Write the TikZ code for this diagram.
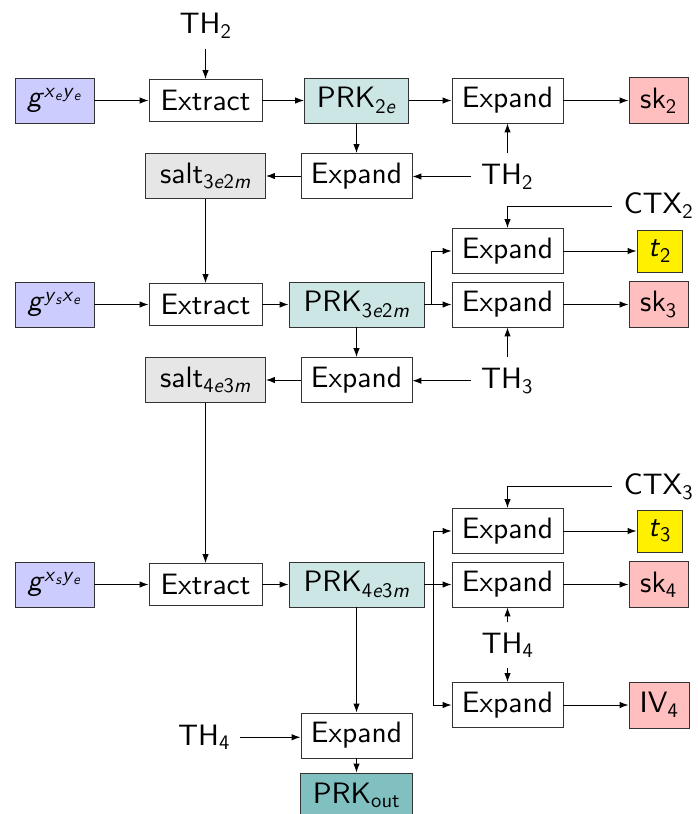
\documentclass[tikz,border=0pt]{standalone}
\usepackage{fontspec}
\setmainfont{lmsans10-regular.otf}[ItalicFont=lmsans10-oblique.otf]
\usetikzlibrary{arrows.meta}
\definecolor{gcol}{HTML}{CCCCFF}
\definecolor{prkcol}{HTML}{CCE5E5}
\definecolor{prkoutcol}{HTML}{80C0C0}
\definecolor{skcol}{HTML}{FFBFBF}
\definecolor{saltcol}{HTML}{E6E6E6}
\definecolor{tcol}{HTML}{FFF000}
\newcommand{\vi}[1]{\textit{#1}}
\newcommand{\sub}[1]{\textsubscript{#1}}
\begin{document}
\begin{tikzpicture}[x=1pt,y=-1pt,
  bx/.style={draw=black!80, line width=0.9pt, inner sep=0pt, font=\fontsize{29.5}{34}\selectfont},
  wbox/.style={bx, fill=white, minimum width=111pt, minimum height=45pt},
  exbox/.style={bx, fill=white, minimum width=113pt, minimum height=42pt},
  gbox/.style={bx, fill=gcol, minimum width=79pt, minimum height=45pt},
  prkbox/.style={bx, fill=prkcol, minimum height=45pt},
  saltbox/.style={bx, fill=saltcol, minimum width=120pt, minimum height=45pt},
  skbox/.style={bx, fill=skcol, minimum width=59pt, minimum height=46pt},
  tbox/.style={bx, fill=tcol, minimum width=45pt, minimum height=42pt},
  lbl/.style={inner sep=10pt, font=\fontsize{29.5}{34}\selectfont},
  arr/.style={-{Latex[length=9pt,width=6.5pt]}, line width=1pt},
  ln/.style={line width=1pt}]
\useasboundingbox (0,0) rectangle (697,814);

% row 1
\node[gbox] (g1) at (54.5,100.5) {\vi{g}\textsuperscript{\vi{x}\sub{\vi{e}}\vi{y}\sub{\vi{e}}}};
\node[exbox] (ex1) at (205.5,100.5) {Extract};
\node[prkbox, minimum width=104pt] (prk1) at (356.5,100.5) {PRK\sub{2\vi{e}}};
\node[wbox] (exp1) at (507.5,100.5) {Expand};
\node[skbox] (sk2) at (658.5,100.5) {sk\sub{2}};
\node[lbl, anchor=base] (th2a) at (205.5,33) {TH\sub{2}};

% row 2
\node[saltbox] (salt1) at (205.5,176) {salt\sub{3\vi{e}2\vi{m}}};
\node[wbox] (exp2) at (356.5,176) {Expand};
\node[lbl, anchor=base] (th2b) at (507,184) {TH\sub{2}};

% row 3
\node[gbox] (g2) at (54.5,304.5) {\vi{g}\textsuperscript{\vi{y}\sub{\vi{s}}\vi{x}\sub{\vi{e}}}};
\node[exbox] (ex2) at (205.5,304.5) {Extract};
\node[prkbox, minimum width=135pt] (prk2) at (356.5,304.5) {PRK\sub{3\vi{e}2\vi{m}}};
\node[wbox] (exp3a) at (507.5,251) {Expand};
\node[wbox] (exp3b) at (507.5,304.5) {Expand};
\node[tbox] (t2) at (659.5,251) {\vi{t}\sub{2}};
\node[skbox] (sk3) at (658.5,304.5) {sk\sub{3}};
\node[lbl, anchor=base, inner sep=0pt] (ctx2) at (658.5,213) {CTX\sub{2}};

% row 4
\node[saltbox] (salt2) at (205.5,380) {salt\sub{4\vi{e}3\vi{m}}};
\node[wbox] (exp4) at (356.5,380) {Expand};
\node[lbl, anchor=base] (th3) at (507,388) {TH\sub{3}};

% row 5
\node[gbox] (g3) at (54.5,584.5) {\vi{g}\textsuperscript{\vi{x}\sub{\vi{s}}\vi{y}\sub{\vi{e}}}};
\node[exbox] (ex3) at (205.5,584.5) {Extract};
\node[prkbox, minimum width=135pt] (prk3) at (356.5,584.5) {PRK\sub{4\vi{e}3\vi{m}}};
\node[wbox] (exp5a) at (507.5,531) {Expand};
\node[wbox] (exp5b) at (507.5,584.5) {Expand};
\node[wbox] (exp5c) at (507.5,705) {Expand};
\node[tbox] (t3) at (659.5,531) {\vi{t}\sub{3}};
\node[skbox] (sk4) at (658.5,584.5) {sk\sub{4}};
\node[skbox, minimum width=60pt] (iv4) at (659,705) {IV\sub{4}};
\node[lbl, anchor=base, inner sep=0pt] (ctx3) at (658.5,494) {CTX\sub{3}};
\node[lbl, anchor=base] (th4r) at (507.5,653) {TH\sub{4}};

% row 6
\node[wbox] (exp6) at (356.5,735.5) {Expand};
\node[bx, fill=prkoutcol, minimum width=112pt, minimum height=45pt] (prkout) at (356.5,795.5) {PRK\sub{out}};
\node[lbl, anchor=base] (th4l) at (204,745) {TH\sub{4}};

% connectors row 1-2
\draw[arr] (th2a) -- (ex1);
\draw[arr] (g1) -- (ex1);
\draw[arr] (ex1) -- (prk1);
\draw[arr] (prk1) -- (exp1);
\draw[arr] (exp1) -- (sk2);
\draw[arr] (prk1) -- (exp2);
\draw[arr] (exp1.south |- th2b.north) -- (exp1.south);
\draw[arr] (th2b.west -| th2b.west) -- (th2b.west -| exp2.east);
\draw[arr] (exp2) -- (salt1);
\draw[arr] (salt1) -- (ex2);

% row 3-4
\draw[arr] (g2) -- (ex2);
\draw[arr] (ex2) -- (prk2);
\draw[arr] (prk2) -- (exp3b);
\coordinate (br2) at ([xshift=7pt]prk2.east);
\draw[arr] (prk2.east) -- (br2) |- (exp3a.west);
\draw[arr] ([xshift=-12pt]ctx2.west |- 0,206) -| (exp3a.north);
\draw[arr] (exp3a) -- (t2);
\draw[arr] (exp3b) -- (sk3);
\draw[arr] (exp3b.south |- th3.north) -- (exp3b.south);
\draw[arr] (th3.west) -- (th3.west -| exp4.east);
\draw[arr] (prk2) -- (exp4);
\draw[arr] (exp4) -- (salt2);
\draw[arr] (salt2) -- (ex3);

% row 5
\draw[arr] (g3) -- (ex3);
\draw[arr] (ex3) -- (prk3);
\draw[arr] (prk3) -- (exp5b);
\coordinate (br3) at ([xshift=9pt]prk3.east);
\draw[arr] (prk3.east) -- (br3) |- (exp5a.west);
\draw[arr] (br3) |- (exp5c.west);
\draw[arr] ([xshift=-12pt]ctx3.west |- 0,486) -| (exp5a.north);
\draw[arr] (exp5a) -- (t3);
\draw[arr] (exp5b) -- (sk4);
\draw[arr] (exp5c) -- (iv4);
\draw[arr] (th4r) -- (exp5b);
\draw[arr] (th4r) -- (exp5c);

% row 6
\draw[arr] (prk3) -- (exp6);
\draw[arr] (th4l.east) -- (th4l.east -| exp6.west);
\draw[arr] (exp6) -- (prkout);
\end{tikzpicture}
\end{document}
